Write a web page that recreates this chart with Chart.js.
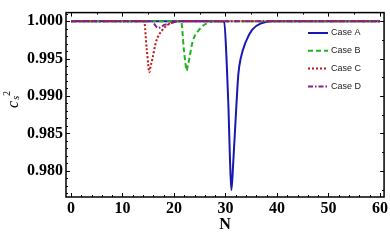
<!DOCTYPE html>
<html>
<head>
<meta charset="utf-8">
<script src="https://cdn.jsdelivr.net/npm/chart.js@4"></script>
<style>
  html, body { margin: 0; padding: 0; background: #fff; }
  #wrap { width: 390px; height: 244px; position: relative; }
</style>
</head>
<body>
<div id="wrap"><canvas id="mycanvas"></canvas></div>
<script>
// values
var caseA_N = [0, 28, 29.75, 30.2, 30.57, 30.9, 31.15, 31.5, 32.12, 32.5, 32.97, 33.93, 35.2, 37.1, 39, 60];
var caseA_y = [1, 1, 0.99995, 0.99506, 0.98873, 0.9810, 0.97743, 0.9810, 0.98873, 0.99291, 0.99506, 0.99721, 0.99886, 0.99975, 1, 1];

var caseB_N = [0, 20, 21.4, 21.9, 22.2, 22.46, 22.7, 23.0, 23.6, 24.9, 26.5, 28, 60];
var caseB_y = [1, 1, 0.99995, 0.99633, 0.9945, 0.99338, 0.9941, 0.99506, 0.99721, 0.99886, 0.99975, 1, 1];

var caseC_N = [0, 13, 14.2, 14.7, 15.0, 15.2, 15.45, 15.84, 16.5, 17.8, 19.4, 21, 60];
var caseC_y = [1, 1, 0.99995, 0.99633, 0.9942, 0.99316, 0.9939, 0.99506, 0.99721, 0.99886, 0.99975, 1, 1];

var caseD_N = [0, 15, 15.8, 16.4, 16.9, 17.4, 18.1, 19.3, 21, 60];
var caseD_y = [1, 1, 0.99995, 0.9994, 0.99908, 0.9992, 0.99949, 0.99971, 1, 1];

var xTicks = [0, 10, 20, 30, 40, 50, 60];
var yTicks = [0.980, 0.985, 0.990, 0.995, 1.000];

var labels = ['Case A', 'Case B', 'Case C', 'Case D'];

function pts(xs, ys) {
  return xs.map(function(x, i) { return {x: x, y: ys[i]}; });
}

var serif = '"Liberation Serif", "Times New Roman", serif';

// frame, inner tick marks, legend and axis title
var framePlugin = {
  id: 'frame',
  afterDraw: function(chart) {
    var ctx = chart.ctx, a = chart.chartArea;
    var xs = chart.scales.x, ys = chart.scales.y;
    ctx.save();
    ctx.strokeStyle = '#000';
    ctx.lineWidth = 1.5;
    ctx.strokeRect(a.left, a.top, a.right - a.left, a.bottom - a.top);

    ctx.lineWidth = 1;
    ctx.beginPath();
    var v, px, len;
    for (v = 0; v <= 60; v += 2) {
      px = Math.round(xs.getPixelForValue(v)) + 0.5;
      len = v % 10 === 0 ? 4 : 2;
      ctx.moveTo(px, a.bottom); ctx.lineTo(px, a.bottom - len);
    }
    for (v = 0; v <= 60; v += 5) {
      px = Math.round(xs.getPixelForValue(v)) + 0.5;
      len = v % 10 === 0 ? 4 : 2;
      ctx.moveTo(px, a.top); ctx.lineTo(px, a.top + len);
    }
    for (v = 977; v <= 1001; v++) {
      px = Math.round(ys.getPixelForValue(v / 1000)) + 0.5;
      len = v % 5 === 0 ? 4 : 2;
      ctx.moveTo(a.left, px); ctx.lineTo(a.left + len, px);
    }
    for (v = 9775; v <= 10010; v += 25) {
      px = Math.round(ys.getPixelForValue(v / 10000)) + 0.5;
      len = v % 50 === 0 ? 4 : 2;
      ctx.moveTo(a.right, px); ctx.lineTo(a.right - len, px);
    }
    ctx.stroke();

    // legend
    ctx.font = '9px "Liberation Sans", Arial, sans-serif';
    ctx.textBaseline = 'middle';
    ctx.textAlign = 'left';
    chart.data.datasets.forEach(function(ds, i) {
      var y = 33 + i * 17.8;
      ctx.strokeStyle = ds.borderColor;
      ctx.lineWidth = ds.borderWidth;
      ctx.setLineDash(ds.borderDash || []);
      ctx.beginPath();
      ctx.moveTo(308, y); ctx.lineTo(328, y);
      ctx.stroke();
      ctx.setLineDash([]);
      ctx.fillStyle = '#222';
      ctx.fillText(ds.label, 331, y);
    });

    // y title (c_s)^2
    ctx.translate(17.5, 108);
    ctx.rotate(-Math.PI / 2);
    ctx.fillStyle = '#000';
    ctx.textBaseline = 'alphabetic';
    ctx.font = 'italic 16px ' + serif;
    ctx.fillText('c', 0, 0);
    var w = ctx.measureText('c').width;
    ctx.font = 'italic 11px ' + serif;
    ctx.fillText('s', w + 1, 1);
    var w2 = w + 1 + ctx.measureText('s').width;
    ctx.font = '10px ' + serif;
    ctx.fillText('2', w2 - 0.5, -8);
    ctx.restore();
  }
};

new Chart(document.getElementById('mycanvas'), {
  type: 'line',
  data: {
    datasets: [
      { label: labels[0], data: pts(caseA_N, caseA_y), borderColor: 'rgb(24,24,176)', borderWidth: 2, order: 3 },
      { label: labels[1], data: pts(caseB_N, caseB_y), borderColor: 'rgb(30,180,30)', borderWidth: 2, borderDash: [5, 3], order: 2 },
      { label: labels[2], data: pts(caseC_N, caseC_y), borderColor: 'rgb(192,22,22)', borderWidth: 2, borderDash: [2, 2], order: 1 },
      { label: labels[3], data: pts(caseD_N, caseD_y), borderColor: 'rgb(140,28,140)', borderWidth: 2, borderDash: [5, 2, 1.5, 2], order: 0 }
    ]
  },
  options: {
    responsive: true,
    maintainAspectRatio: false,
    animation: false,
    layout: { padding: { top: 2, right: 4, left: 0, bottom: 10 } },
    elements: {
      point: { radius: 0 },
      line: { fill: false, cubicInterpolationMode: 'monotone' }
    },
    plugins: {
      legend: { display: false },
      tooltip: { enabled: false }
    },
    scales: {
      x: {
        type: 'linear',
        min: -0.97,
        max: 60.8,
        grid: { display: false, drawTicks: false },
        border: { display: false },
        afterBuildTicks: function(s) { s.ticks = xTicks.map(function(v) { return {value: v}; }); },
        afterFit: function(s) { s.height = 37; },
        ticks: {
          padding: 2,
          maxRotation: 0,
          color: '#000',
          font: { family: serif, size: 16, weight: 'bold' },
          callback: function(v) { return String(v); }
        },
        title: {
          display: true,
          text: 'N',
          color: '#000',
          padding: { top: 0, bottom: 0 },
          font: { family: serif, size: 16, weight: 'bold' }
        }
      },
      y: {
        min: 0.9765,
        max: 1.00114,
        grid: { display: false, drawTicks: false },
        border: { display: false },
        afterBuildTicks: function(s) { s.ticks = yTicks.map(function(v) { return {value: v}; }); },
        afterFit: function(s) { s.width = 66; },
        ticks: {
          padding: 3,
          color: '#000',
          font: { family: serif, size: 16, weight: 'bold' },
          callback: function(v) { return v.toFixed(3); }
        }
      }
    }
  },
  plugins: [framePlugin]
});
</script>
</body>
</html>
